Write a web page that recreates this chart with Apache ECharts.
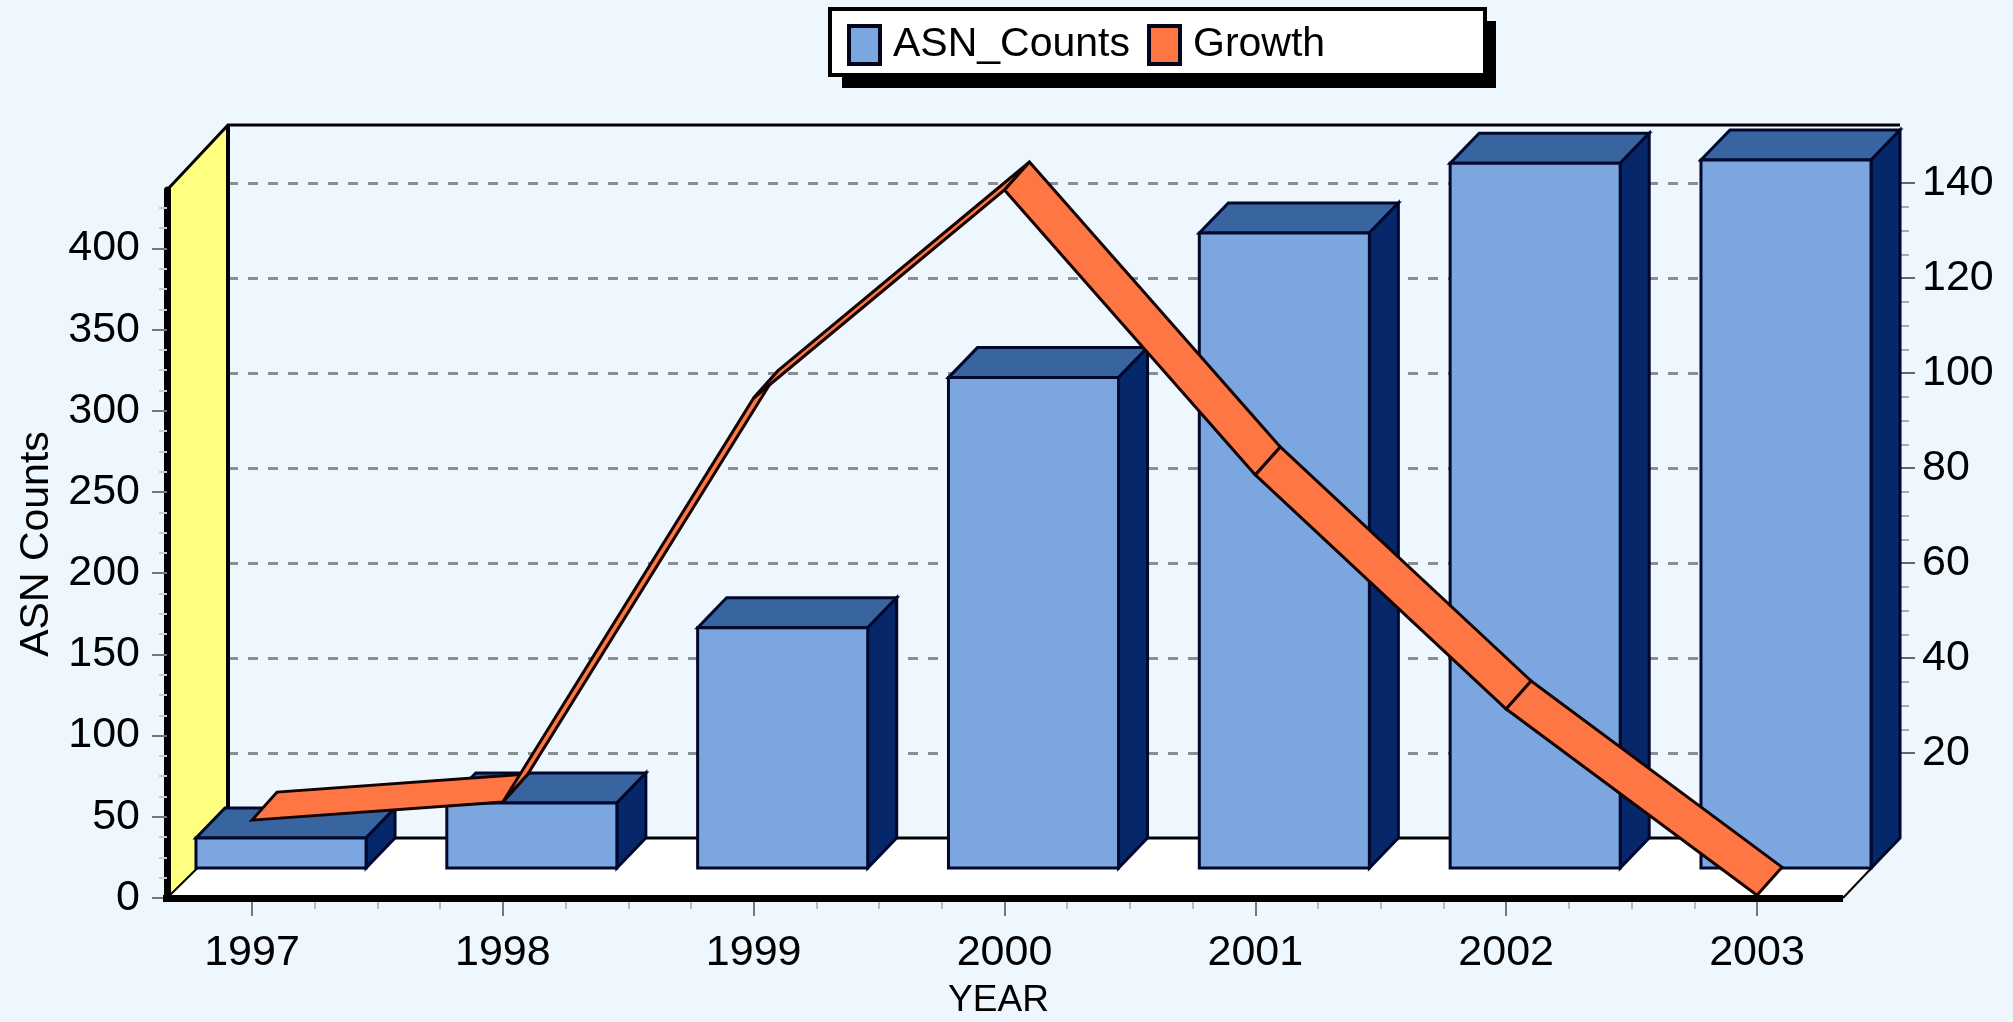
<!DOCTYPE html>
<html><head><meta charset="utf-8">
<style>html,body{margin:0;padding:0;background:#eef7fe}#c{width:2013px;height:1022px}</style>
<script src="https://cdn.jsdelivr.net/npm/echarts@6/dist/echarts.min.js"></script>
</head><body><div id="c"></div>
<script>
const years = [1997, 1998, 1999, 2000, 2001, 2002, 2003];
const asnCounts = [18.5, 40, 148, 302, 391, 434, 436];
const growth = [18.7, 22.5, 107.6, 151.4, 91.4, 42.1, 2.9];
const leftTicks = [0, 50, 100, 150, 200, 250, 300, 350, 400];
const seriesNames = ['ASN_Counts', 'Growth'];

const FONT = '"Liberation Sans", Arial, sans-serif';
const BAR_SHIFT = [29, -30], BAR_DEPTH = [29, -30], BAR_RATIO = 0.678;
const RIB_DEPTH = [25, -28];

const chart = echarts.init(document.getElementById('c'), null, {renderer: 'canvas'});

function renderBar(params, api) {
  const yr = api.value(0), v = api.value(1);
  const base = api.coord([yr, 0]), top = api.coord([yr, v]);
  const step = api.coord([yr + 1, 0])[0] - base[0];
  const w = step * BAR_RATIO;
  const l = base[0] + BAR_SHIFT[0] - w / 2, r = l + w;
  const b = base[1] + BAR_SHIFT[1], t = top[1] + BAR_SHIFT[1];
  const dx = BAR_DEPTH[0], dy = BAR_DEPTH[1];
  const edge = {stroke: '#00082e', lineWidth: 3, lineJoin: 'miter'};
  return {type: 'group', children: [
    {type: 'polygon', shape: {points: [[l, t], [r, t], [r + dx, t + dy], [l + dx, t + dy]]},
      style: Object.assign({fill: '#38649f'}, edge)},
    {type: 'polygon', shape: {points: [[r, t], [r + dx, t + dy], [r + dx, b + dy], [r, b]]},
      style: Object.assign({fill: '#06286a'}, edge)},
    {type: 'rect', shape: {x: l, y: t, width: w, height: b - t},
      style: Object.assign({fill: '#7ca6e0'}, edge)}
  ]};
}
function renderRibbon(params, api) {
  const i = params.dataIndex;
  if (i >= years.length - 1) return null;
  const a = api.coord([years[i], growth[i]]), c = api.coord([years[i + 1], growth[i + 1]]);
  const dx = RIB_DEPTH[0], dy = RIB_DEPTH[1];
  return {type: 'polygon',
    shape: {points: [a, c, [c[0] + dx, c[1] + dy], [a[0] + dx, a[1] + dy]]},
    style: {fill: '#ff7645', stroke: '#140303', lineWidth: 3, lineJoin: 'miter'}};
}

const blk = {stroke: '#000', lineWidth: 3};
chart.setOption({
  animation: false,
  backgroundColor: '#eef7fe',
  textStyle: {fontFamily: FONT, color: '#000'},
  legend: {
    left: 847, top: 24, z: 10, padding: 0, itemWidth: 31, itemHeight: 38, itemGap: 17,
    icon: 'rect', data: seriesNames,
    itemStyle: {borderColor: '#03051c', borderWidth: 4},
    textStyle: {fontFamily: FONT, fontSize: 41, color: '#000', padding: [6, 0, 0, 8]}
  },
  grid: [
    {left: 252, top: 190, width: 1505, height: 708, containLabel: false, outerBoundsMode: 'none'},
    {left: 228, top: 183, width: 1672, height: 570, containLabel: false, outerBoundsMode: 'none'}
  ],
  xAxis: [
    {type: 'value', gridIndex: 0, min: 1997, max: 2003, interval: 1,
      name: 'YEAR', nameLocation: 'middle', nameGap: 84,
      nameTextStyle: {fontFamily: FONT, fontSize: 37, color: '#000', padding: [0, 12, 0, 0]},
      axisLine: {show: false},
      axisTick: {show: true, length: 18, lineStyle: {color: '#777', width: 2}},
      minorTick: {show: true, splitNumber: 4, length: 11, lineStyle: {color: '#bbb', width: 2}},
      splitLine: {show: false},
      axisLabel: {fontFamily: FONT, fontSize: 43, color: '#000', margin: 34, formatter: v => String(v)}},
    {type: 'value', gridIndex: 1, min: 0, max: 1, show: false}
  ],
  yAxis: [
    {type: 'value', gridIndex: 0, position: 'left', offset: 85, min: 0, max: 436, interval: 50,
      name: 'ASN Counts', nameLocation: 'middle', nameGap: 110, nameRotate: 90,
      nameTextStyle: {fontFamily: FONT, fontSize: 41, color: '#000'},
      axisLine: {show: true, lineStyle: {color: '#000', width: 7}},
      axisTick: {show: true, length: 15, customValues: leftTicks, lineStyle: {color: '#777', width: 2}},
      minorTick: {show: true, splitNumber: 4, length: 8, lineStyle: {color: '#ccc', width: 2}},
      splitLine: {show: false},
      axisLabel: {fontFamily: FONT, fontSize: 43, color: '#000', margin: 27, customValues: leftTicks}},
    {type: 'value', gridIndex: 0, show: false, min: 2.3, max: 151.4, splitLine: {show: false}},
    {type: 'value', gridIndex: 1, position: 'right', min: 20, max: 140, interval: 20,
      axisLine: {show: false, onZero: false},
      axisTick: {show: true, length: 15, lineStyle: {color: '#666', width: 2}},
      minorTick: {show: true, splitNumber: 4, length: 9, lineStyle: {color: '#aaa', width: 2}},
      splitLine: {show: true, lineStyle: {color: '#8a8f8f', width: 3, type: [10, 10]}},
      axisLabel: {fontFamily: FONT, fontSize: 43, color: '#000', margin: 22}}
  ],
  series: [
    {name: seriesNames[0], type: 'custom', xAxisIndex: 0, yAxisIndex: 0, z: 3, clip: false,
      renderItem: renderBar, itemStyle: {color: '#7ca6e0', borderColor: '#00082e', borderWidth: 3},
      data: years.map((y, i) => [y, asnCounts[i]])},
    {name: seriesNames[1], type: 'custom', xAxisIndex: 0, yAxisIndex: 1, z: 4, clip: false,
      renderItem: renderRibbon, itemStyle: {color: '#ff7645', borderColor: '#140303', borderWidth: 3},
      data: years.map((y, i) => [y, growth[i]])}
  ],
  graphic: {elements: [
    {type: 'polygon', z: -1, silent: true, shape: {points: [[167, 190], [228, 125], [228, 838], [167, 898]]},
      style: {fill: '#ffff80', stroke: null}},
    {type: 'polygon', z: -1, silent: true, shape: {points: [[167, 898], [228, 838], [1900, 838], [1843, 898]]},
      style: {fill: '#ffffff', stroke: null}},
    {type: 'polyline', z: 1, silent: true, shape: {points: [[167, 190], [228, 125], [1900, 125]]}, style: {fill: null, stroke: '#000', lineWidth: 3}},
    {type: 'line', z: 1, silent: true, shape: {x1: 228, y1: 125, x2: 228, y2: 838}, style: {stroke: '#000', lineWidth: 4}},
    {type: 'line', z: 1, silent: true, shape: {x1: 228, y1: 838, x2: 1897, y2: 838}, style: blk},
    {type: 'line', z: 1, silent: true, shape: {x1: 167, y1: 898, x2: 228, y2: 838}, style: {stroke: '#000', lineWidth: 2}},
    {type: 'line', z: 1, silent: true, shape: {x1: 1843, y1: 898, x2: 1900, y2: 838}, style: {stroke: '#000', lineWidth: 2}},
    {type: 'line', z: 1, silent: true, shape: {x1: 163, y1: 898.5, x2: 1843, y2: 898.5}, style: {stroke: '#000', lineWidth: 7}},
    {type: 'rect', z: 5, silent: true, shape: {x: 842, y: 21, width: 654, height: 67}, style: {fill: '#000'}},
    {type: 'rect', z: 6, silent: true, shape: {x: 830, y: 9, width: 655, height: 66}, style: {fill: '#fff', stroke: '#000', lineWidth: 4}}
  ]}
});
</script></body></html>
